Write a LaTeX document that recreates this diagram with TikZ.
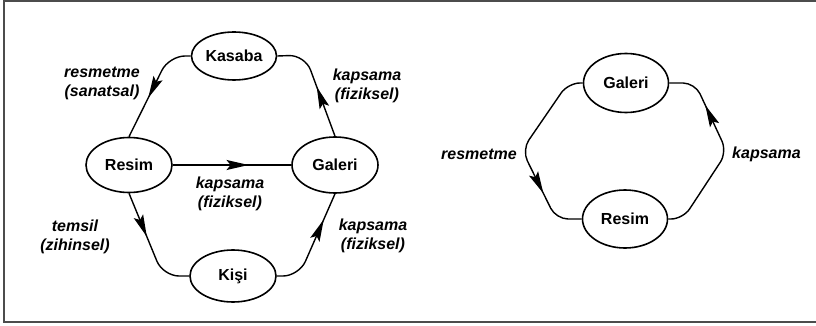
\documentclass[tikz,border=0pt]{standalone}
\usepackage{fontspec}
\setmainfont{Liberation Sans}
\usetikzlibrary{shapes.geometric,arrows.meta,decorations.markings}
\begin{document}
\begin{tikzpicture}[x=1pt,y=-1pt,
  ent/.style={ellipse,draw,line width=1.6pt,inner sep=0pt,font=\fontsize{16}{19}\selectfont\bfseries},
  lbl/.style={align=center,inner sep=0pt,font=\fontsize{16}{19}\selectfont\bfseries\itshape},
  conn/.style={line width=1.4pt,rounded corners=16pt},
  midarrow/.style={postaction={decorate},decoration={markings,
     mark=at position #1 with {\arrow{Stealth[length=22pt,width=10pt,inset=4pt]}}}}]
\useasboundingbox (0,0) rectangle (816,326);
\draw[line width=2pt,color=black!70] (816,1) -- (4,1) -- (4,322) -- (816,322);
% left diagram
\node[ent,minimum width=85pt,minimum height=48pt] (kasaba) at (234,56) {Kasaba};
\node[ent,minimum width=86pt,minimum height=55pt] (resim) at (129,165) {Resim};
\node[ent,minimum width=86pt,minimum height=56pt] (galeri) at (335,165) {Galeri};
\node[ent,minimum width=86pt,minimum height=52pt] (kisi) at (233,276) {Kişi};
\coordinate (c1) at (169,56);
\coordinate (c2) at (305,55);
\coordinate (c3) at (163,276);
\coordinate (c4) at (299,276);
\draw[conn,midarrow=0.6] (kasaba.west) -- (c1) -- (resim.north);
\draw[conn,midarrow=0.48] (galeri.north) -- (c2) -- (kasaba.east);
\draw[conn,midarrow=0.64] (resim.east) -- (galeri.west);
\draw[conn,midarrow=0.42] (resim.south) -- (c3) -- (kisi.west);
\draw[conn,midarrow=0.74] (kisi.east) -- (c4) -- (galeri.south);
\node[lbl] (l1) at (102,83) {resmetme\\(sanatsal)};
\node[lbl] (l2) at (367,86) {kapsama\\(fiziksel)};
\node[lbl] (l3) at (230,194) {kapsama\\(fiziksel)};
\node[lbl] (l4) at (75,237) {temsil\\(zihinsel)};
\node[lbl] (l5) at (373,236) {kapsama\\(fiziksel)};
% right diagram
\node[ent,minimum width=85pt,minimum height=59pt] (galeri2) at (626,83) {Galeri};
\node[ent,minimum width=85pt,minimum height=58pt] (resim2) at (625,219) {Resim};
\coordinate (d1) at (568,83);
\coordinate (d2) at (522,150);
\coordinate (d3) at (556,219);
\coordinate (e1) at (683,219);
\coordinate (e2) at (727,152);
\coordinate (e3) at (695,83);
\draw[conn,rounded corners=12pt,midarrow=0.73] (galeri2.west) -- (d1) -- (d2) -- (d3) -- (resim2.west);
\draw[conn,rounded corners=12pt,midarrow=0.75] (resim2.east) -- (e1) -- (e2) -- (e3) -- (galeri2.east);
\node[lbl,anchor=east] (l6) at (517,154) {resmetme};
\node[lbl,anchor=west] (l7) at (732,154) {kapsama};
\end{tikzpicture}
\end{document}
